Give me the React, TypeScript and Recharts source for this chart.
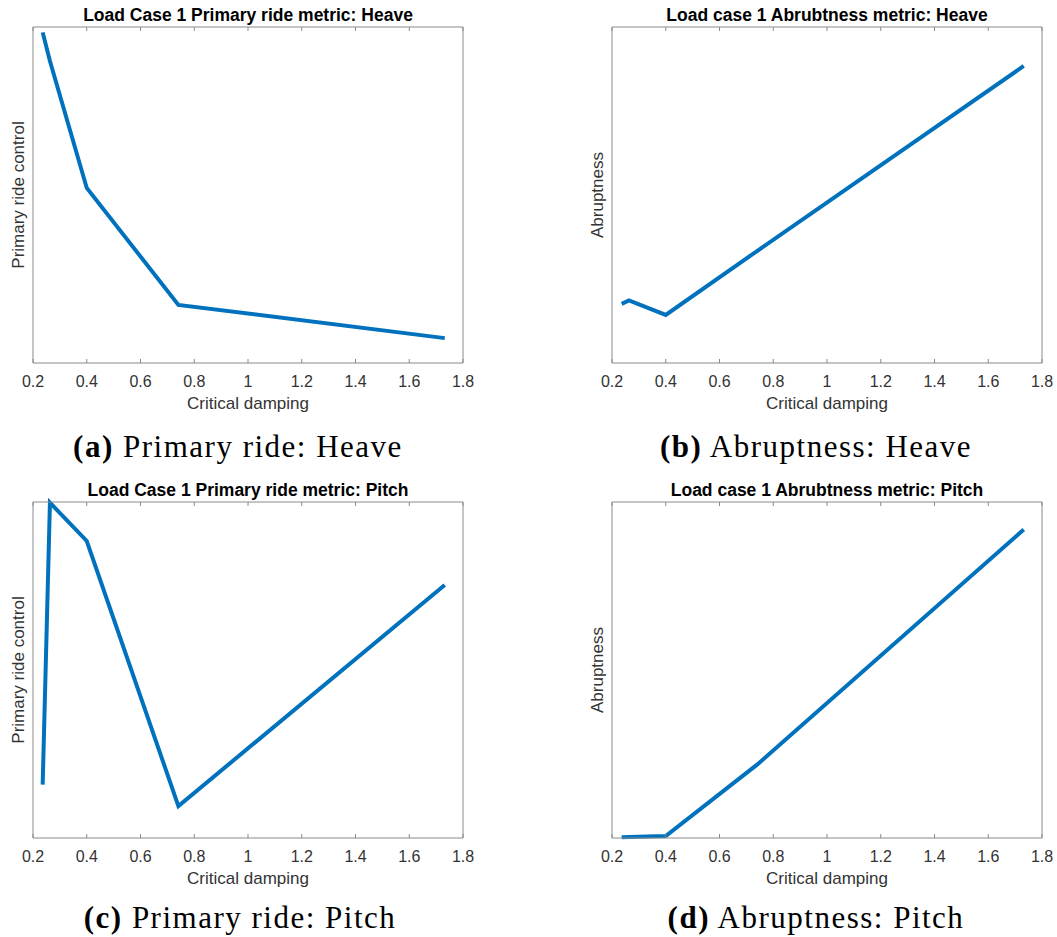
import React from 'react';
import { LineChart, Line, XAxis, YAxis } from 'recharts';

// Critical damping ratios used for every run (x axis)
const dampingValues = [0.236, 0.263, 0.4, 0.741, 1.732];

// Normalised metric values (no y ticks on the plots, so 0..1 = axis range)
const heaveRide = [0.984, 0.899, 0.521, 0.173, 0.074];
const heaveAbruptness = [0.176, 0.186, 0.143, 0.334, 0.884];
const pitchRide = [0.159, 0.998, 0.884, 0.095, 0.753];
const pitchAbruptness = [0.002, 0.003, 0.006, 0.219, 0.918];

const xTicks = [0.2, 0.4, 0.6, 0.8, 1, 1.2, 1.4, 1.6, 1.8];

const LINE_BLUE = '#0072BD';
const BOX_GREY = '#8a8a8a';
const SANS = '"Liberation Sans", Arial, Helvetica, sans-serif';
const SERIF = '"Liberation Serif", "Times New Roman", serif';

const PLOT_W = 430;
const PLOT_H = 336;
const PAD_LEFT = 33;
const PAD_TOP = 27;
const PAD_RIGHT = 17;
const PAD_BOTTOM = 57;
const X_AXIS_H = 50;

const toRows = (values: number[]) =>
  dampingValues.map((d, i) => ({ damping: d, value: values[i] }));

// bottom ticks point into the plot, label sits below
const BottomTick = (props: any) => {
  const { x, y, payload } = props;
  return (
    <g>
      <line x1={x} x2={x} y1={y} y2={y - 4} stroke={BOX_GREY} strokeWidth={1} />
      <text x={x} y={y + 18} dy="0.35em" textAnchor="middle" fontSize={16} fill="#333" fontFamily={SANS}>
        {payload.value}
      </text>
    </g>
  );
};

const TopTick = (props: any) => {
  const { x, y } = props;
  return <line x1={x} x2={x} y1={y} y2={y + 4} stroke={BOX_GREY} strokeWidth={1} />;
};

interface PanelProps {
  title: string;
  yLabel: string;
  values: number[];
  plotX: number;
  plotY: number;
}

const Panel: React.FC<PanelProps> = ({ title, yLabel, values, plotX, plotY }) => {
  const width = PAD_LEFT + PLOT_W + PAD_RIGHT;
  const height = PAD_TOP + PLOT_H + PAD_BOTTOM;
  return (
    <div style={{ position: 'absolute', left: plotX - PAD_LEFT, top: plotY - PAD_TOP, width, height }}>
      <div
        style={{
          position: 'absolute',
          left: PAD_LEFT,
          width: PLOT_W,
          top: 5,
          lineHeight: '20px',
          textAlign: 'center',
          fontFamily: SANS,
          fontWeight: 'bold',
          fontSize: 17.5,
          color: '#000',
          whiteSpace: 'nowrap',
        }}
      >
        {title}
      </div>
      <LineChart
        width={width}
        height={height}
        data={toRows(values)}
        margin={{ top: PAD_TOP - 1, right: PAD_RIGHT - 1, bottom: PAD_BOTTOM - X_AXIS_H, left: 3 }}
      >
        <XAxis
          dataKey="damping"
          type="number"
          domain={[0.2, 1.8]}
          ticks={xTicks}
          interval={0}
          height={X_AXIS_H}
          axisLine={{ stroke: BOX_GREY }}
          tickLine={false}
          tickSize={0}
          tickMargin={0}
          tick={<BottomTick />}
          label={{ value: 'Critical damping', position: 'center', dy: 15, fontSize: 17, fill: '#333', fontFamily: SANS }}
        />
        <XAxis
          xAxisId="top"
          orientation="top"
          dataKey="damping"
          type="number"
          domain={[0.2, 1.8]}
          ticks={xTicks}
          interval={0}
          height={1}
          axisLine={{ stroke: BOX_GREY }}
          tickLine={false}
          tickSize={0}
          tickMargin={0}
          tick={<TopTick />}
        />
        <YAxis
          type="number"
          domain={[0, 1]}
          width={30}
          tick={false}
          tickLine={false}
          axisLine={{ stroke: BOX_GREY }}
          label={{ value: yLabel, angle: -90, position: 'center', fontSize: 17, fill: '#333', fontFamily: SANS }}
        />
        <YAxis
          yAxisId="right"
          orientation="right"
          type="number"
          domain={[0, 1]}
          width={1}
          tick={false}
          tickLine={false}
          axisLine={{ stroke: BOX_GREY }}
        />
        <Line
          type="linear"
          dataKey="value"
          stroke={LINE_BLUE}
          strokeWidth={4}
          dot={false}
          activeDot={false}
          isAnimationActive={false}
        />
      </LineChart>
    </div>
  );
};

const Caption: React.FC<{ tag: string; text: string; cx: number; cy: number }> = ({ tag, text, cx, cy }) => (
  <div
    style={{
      position: 'absolute',
      left: cx - 250,
      width: 500,
      top: cy - 20,
      lineHeight: '40px',
      textAlign: 'center',
      fontFamily: SERIF,
      fontSize: 31,
      letterSpacing: 1.5,
      color: '#000',
      whiteSpace: 'nowrap',
    }}
  >
    <b>({tag})</b> {text}
  </div>
);

export default function App() {
  return (
    <div style={{ position: 'absolute', left: 0, top: 0, width: 1057, height: 937, background: '#fff' }}>
      <Panel title="Load Case 1 Primary ride metric: Heave" yLabel="Primary ride control" values={heaveRide} plotX={33} plotY={27} />
      <Panel title="Load case 1 Abrubtness metric: Heave" yLabel="Abruptness" values={heaveAbruptness} plotX={612} plotY={27} />
      <Panel title="Load Case 1 Primary ride metric: Pitch" yLabel="Primary ride control" values={pitchRide} plotX={33} plotY={502} />
      <Panel title="Load case 1 Abrubtness metric: Pitch" yLabel="Abruptness" values={pitchAbruptness} plotX={612} plotY={502} />
      <Caption tag="a" text="Primary ride: Heave" cx={238} cy={447} />
      <Caption tag="b" text="Abruptness: Heave" cx={816} cy={447} />
      <Caption tag="c" text="Primary ride: Pitch" cx={240} cy={918} />
      <Caption tag="d" text="Abruptness: Pitch" cx={816} cy={918} />
    </div>
  );
}
